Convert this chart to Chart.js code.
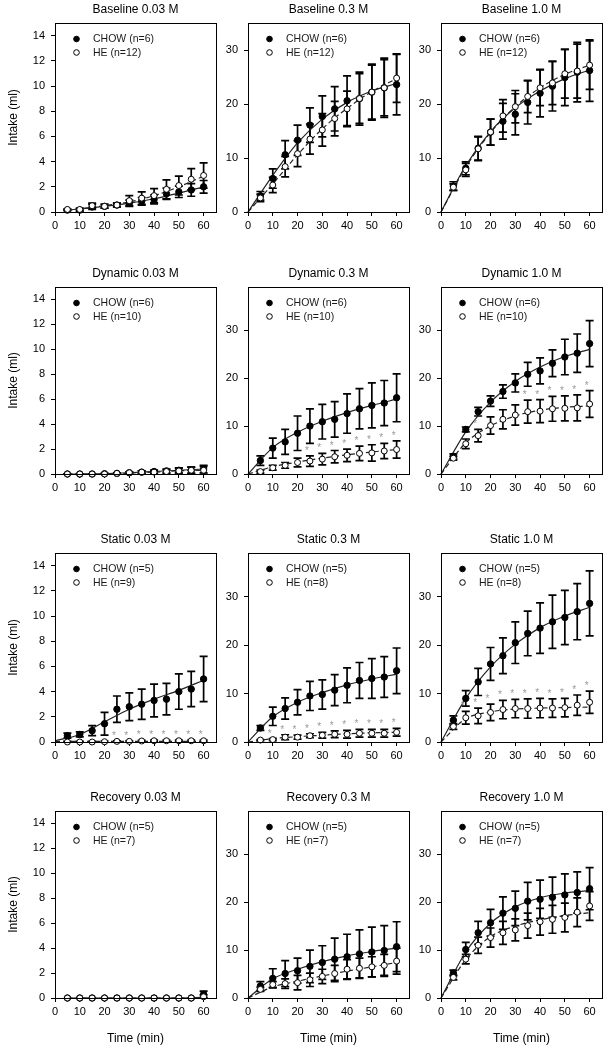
<!DOCTYPE html>
<html>
<head>
<meta charset="utf-8">
<script src="https://cdn.jsdelivr.net/npm/chart.js@4.4.1/dist/chart.umd.min.js"></script>
<style>
  html, body { margin: 0; padding: 0; background: #fff; }
  #fig { position: relative; width: 611px; height: 1050px; overflow: hidden; }
  #fig canvas { position: absolute; }
</style>
</head>
<body>
<div id="fig"></div>
<script>
// sampling times (min) and times used for the fitted curves
const times = [5, 10, 15, 20, 25, 30, 35, 40, 45, 50, 55, 60];
const fitTimes = [0, 10, 20, 30, 40, 50, 60];
const fitTimesLate = [5, 10, 20, 30, 40, 50, 60];

// panel order: Baseline, Dynamic, Static, Recovery x 0.03 / 0.3 / 1.0 M
const panelTitles = [
  'Baseline 0.03 M', 'Baseline 0.3 M', 'Baseline 1.0 M',
  'Dynamic 0.03 M', 'Dynamic 0.3 M', 'Dynamic 1.0 M',
  'Static 0.03 M', 'Static 0.3 M', 'Static 1.0 M',
  'Recovery 0.03 M', 'Recovery 0.3 M', 'Recovery 1.0 M'
];
const chowLabels = [
  'CHOW (n=6)', 'CHOW (n=6)', 'CHOW (n=6)',
  'CHOW (n=6)', 'CHOW (n=6)', 'CHOW (n=6)',
  'CHOW (n=5)', 'CHOW (n=5)', 'CHOW (n=5)',
  'CHOW (n=5)', 'CHOW (n=5)', 'CHOW (n=5)'
];
const heLabels = [
  'HE (n=12)', 'HE (n=12)', 'HE (n=12)',
  'HE (n=10)', 'HE (n=10)', 'HE (n=10)',
  'HE (n=9)', 'HE (n=8)', 'HE (n=8)',
  'HE (n=7)', 'HE (n=7)', 'HE (n=7)'
];
const yMax = [15, 35, 35, 15, 39, 39, 15, 39, 39, 15, 39, 39];
const yStep = [2, 10, 10, 2, 10, 10, 2, 10, 10, 2, 10, 10];

const chowMean = [
  [0.15, 0.15, 0.4, 0.45, 0.55, 0.7, 0.85, 1.0, 1.45, 1.6, 1.75, 2.0],
  [3.0, 6.2, 10.6, 13.3, 16.1, 17.7, 19.1, 20.6, 21.0, 22.2, 23.0, 23.6],
  [4.8, 8.1, 11.8, 14.8, 16.8, 18.1, 20.3, 22.0, 23.3, 24.9, 25.9, 26.2],
  [0, 0, 0, 0.02, 0.05, 0.1, 0.15, 0.2, 0.25, 0.3, 0.3, 0.4],
  [2.8, 5.4, 6.7, 8.5, 10.0, 10.9, 11.4, 12.6, 13.6, 14.3, 14.8, 15.9],
  [3.7, 9.3, 13.0, 15.2, 17.2, 19.0, 20.8, 21.5, 23.1, 24.4, 25.2, 27.2],
  [0.5, 0.6, 0.9, 1.45, 2.6, 2.8, 3.0, 3.3, 3.4, 4.0, 4.2, 5.0],
  [2.9, 5.3, 6.9, 8.2, 9.5, 9.8, 10.7, 11.7, 12.7, 13.1, 13.4, 14.7],
  [4.5, 9.0, 12.4, 16.1, 17.8, 20.5, 22.4, 23.5, 24.8, 25.7, 26.9, 28.6],
  [0, 0, 0, 0, 0, 0, 0, 0, 0, 0, 0, 0.3],
  [2.5, 4.1, 5.1, 5.7, 6.6, 7.4, 8.1, 8.6, 9.2, 9.6, 9.9, 10.7],
  [5.2, 10.1, 13.6, 15.7, 17.7, 18.7, 20.2, 20.6, 21.0, 21.5, 22.0, 22.8]
];
const chowSem = [
  [0.05, 0.1, 0.2, 0.15, 0.15, 0.25, 0.3, 0.35, 0.45, 0.45, 0.5, 0.5],
  [0.8, 1.8, 2.6, 2.8, 3.2, 3.8, 4.1, 4.6, 4.9, 5.0, 5.2, 5.6],
  [0.8, 1.2, 2.2, 2.4, 3.3, 3.8, 4.0, 4.4, 4.6, 5.2, 5.5, 5.7],
  [0.02, 0.02, 0.02, 0.05, 0.05, 0.08, 0.1, 0.12, 0.15, 0.2, 0.25, 0.3],
  [1.0, 2.1, 2.6, 3.6, 3.6, 3.6, 3.7, 4.1, 4.2, 4.7, 4.7, 5.0],
  [0.5, 0.5, 0.9, 1.1, 1.4, 1.9, 2.5, 2.7, 2.8, 3.7, 4.0, 4.8],
  [0.2, 0.2, 0.4, 0.9, 1.05, 1.1, 1.2, 1.3, 1.25, 1.4, 1.4, 1.8],
  [0.5, 1.9, 2.2, 2.6, 3.0, 3.0, 3.2, 3.6, 3.7, 4.1, 4.2, 4.7],
  [0.9, 1.6, 2.8, 3.4, 3.7, 4.3, 4.6, 5.2, 5.5, 5.6, 5.8, 6.7],
  [0, 0, 0, 0, 0, 0, 0, 0, 0, 0, 0, 0.25],
  [0.9, 2.0, 2.7, 2.6, 3.4, 3.5, 4.4, 4.7, 5.0, 5.2, 5.2, 5.2],
  [0.6, 1.5, 2.4, 2.8, 3.4, 3.6, 3.9, 4.0, 4.2, 4.4, 4.3, 4.4]
];
const heMean = [
  [0.2, 0.2, 0.5, 0.45, 0.55, 0.9, 1.1, 1.3, 1.8, 2.1, 2.6, 2.9],
  [2.6, 5.0, 8.4, 10.8, 13.5, 15.2, 17.3, 19.1, 21.0, 22.2, 23.0, 24.8],
  [4.6, 7.8, 11.7, 14.8, 17.8, 19.5, 21.4, 23.0, 23.9, 25.6, 26.1, 27.2],
  [0, 0, 0, 0, 0.05, 0.1, 0.15, 0.15, 0.2, 0.25, 0.3, 0.3],
  [0.5, 1.3, 1.8, 2.4, 2.7, 3.1, 3.6, 3.9, 4.3, 4.4, 4.8, 5.1],
  [3.3, 6.3, 8.0, 10.1, 11.4, 12.3, 13.0, 13.1, 13.6, 13.7, 13.8, 14.6],
  [0, 0, 0, 0.02, 0.05, 0.05, 0.08, 0.1, 0.1, 0.1, 0.1, 0.1],
  [0.4, 0.5, 1.0, 1.0, 1.3, 1.4, 1.6, 1.6, 1.8, 1.8, 1.8, 2.0],
  [3.2, 5.0, 5.4, 6.1, 6.7, 6.9, 6.9, 7.0, 7.0, 7.1, 7.6, 8.2],
  [0, 0, 0, 0, 0, 0, 0, 0, 0, 0, 0, 0.1],
  [1.8, 2.8, 3.0, 3.2, 3.8, 4.5, 5.1, 6.0, 6.2, 6.5, 6.8, 7.7],
  [4.3, 8.1, 11.0, 12.6, 13.6, 14.2, 15.1, 15.9, 16.4, 16.8, 17.9, 19.2]
];
const heSem = [
  [0.05, 0.1, 0.2, 0.15, 0.15, 0.4, 0.5, 0.55, 0.75, 0.75, 0.85, 1.0],
  [0.7, 1.4, 1.9, 2.4, 2.8, 3.0, 3.2, 3.3, 4.6, 5.2, 5.5, 4.5],
  [0.6, 1.2, 2.2, 2.4, 3.0, 3.0, 3.0, 3.3, 4.0, 4.5, 5.0, 4.5],
  [0.02, 0.02, 0.02, 0.02, 0.05, 0.08, 0.1, 0.12, 0.15, 0.2, 0.25, 0.3],
  [0.3, 0.5, 0.6, 0.9, 1.1, 1.2, 1.3, 1.3, 1.5, 1.7, 1.6, 1.8],
  [0.4, 1.0, 1.3, 1.8, 2.0, 2.1, 2.4, 2.4, 2.6, 2.6, 2.7, 2.8],
  [0.05, 0.05, 0.05, 0.05, 0.05, 0.05, 0.05, 0.05, 0.05, 0.05, 0.05, 0.05],
  [0.1, 0.2, 0.5, 0.4, 0.4, 0.6, 0.7, 0.8, 0.8, 0.8, 0.8, 0.8],
  [0.6, 1.3, 1.6, 1.7, 1.9, 1.9, 2.0, 2.0, 1.9, 1.9, 2.1, 2.3],
  [0, 0, 0, 0, 0, 0, 0, 0, 0, 0, 0, 0.15],
  [0.4, 0.6, 1.0, 1.5, 1.4, 1.5, 1.7, 2.0, 2.1, 2.1, 2.3, 2.7],
  [0.5, 1.0, 1.7, 2.0, 2.4, 2.3, 2.6, 2.8, 2.9, 3.0, 3.0, 3.0]
];

// fitted curves (x = fitTimes, or fitTimesLate where flagged)
const fitLate = [true, false, false, true, false, false, false, false, false, true, false, false];
const chowFit = [
  [0.15, 0.25, 0.45, 0.7, 1.05, 1.5, 2.0],
  [0, 6.8, 12.8, 17.2, 20.3, 22.4, 23.8],
  [0, 8.6, 14.9, 19.3, 22.4, 24.7, 26.3],
  [0, 0, 0.03, 0.1, 0.2, 0.3, 0.4],
  [0, 5.5, 8.7, 11.0, 12.8, 14.3, 15.6],
  [0, 8.8, 15.0, 19.3, 22.3, 24.5, 26.0],
  [0.1, 0.6, 1.6, 2.6, 3.4, 4.1, 4.9],
  [0, 5.2, 8.2, 10.2, 11.8, 13.0, 14.0],
  [0, 9.0, 15.5, 20.2, 23.6, 26.0, 27.8],
  [0, 0, 0, 0, 0, 0, 0.05],
  [0, 4.0, 6.0, 7.6, 8.8, 9.7, 10.4],
  [0, 9.6, 15.6, 19.0, 20.9, 21.9, 22.4]
];
const heFit = [
  [0.15, 0.25, 0.5, 0.8, 1.3, 2.0, 2.85],
  [0, 5.2, 10.6, 15.4, 19.2, 22.3, 24.7],
  [0, 8.3, 14.7, 19.5, 23.0, 25.5, 27.2],
  [0, 0, 0, 0.08, 0.15, 0.25, 0.3],
  [0, 1.5, 2.5, 3.3, 4.0, 4.6, 5.1],
  [0, 6.5, 10.0, 12.1, 13.3, 13.9, 14.2],
  [0.05, 0.05, 0.05, 0.05, 0.05, 0.05, 0.05],
  [0, 0.7, 1.1, 1.4, 1.7, 1.9, 2.0],
  [0, 4.8, 6.2, 6.8, 7.0, 7.1, 7.2],
  [0, 0, 0, 0, 0, 0, 0],
  [0, 2.3, 3.5, 4.6, 5.6, 6.5, 7.4],
  [0, 8.0, 12.8, 15.0, 16.3, 17.2, 17.8]
];

// times where HE differs from CHOW (asterisks)
const starTimes = [
  [], [], [],
  [], [25, 30, 35, 40, 45, 50, 55, 60], [15, 35, 40, 45, 50, 55, 60],
  [25, 30, 35, 40, 45, 50, 55, 60], [10, 15, 20, 25, 30, 35, 40, 45, 50, 55, 60], [10, 15, 20, 25, 30, 35, 40, 45, 50, 55, 60],
  [], [], []
];

// layout of the plot boxes on the page
const colLeft = [55, 248, 441];
const rowTop = [23, 287, 553, 811];
const rowBottom = [212, 474, 742, 998];
const plotW = 161;

Chart.defaults.font.family = "'Liberation Sans', Arial, sans-serif";
Chart.defaults.color = '#000';

function align(v) { return Math.round(v - 0.5) + 0.5; }

const panelDecor = {
  id: 'panelDecor',
  beforeDatasetsDraw(chart) {
    const { ctx, scales: { x, y } } = chart;
    ctx.save();
    ctx.strokeStyle = '#000';
    ctx.lineWidth = 1.7;
    chart.data.datasets.forEach(ds => {
      if (!ds.errors) return;
      ds.data.forEach((pt, i) => {
        const e = ds.errors[i];
        if (!e) return;
        const px = x.getPixelForValue(pt.x);
        const top = y.getPixelForValue(pt.y + e);
        const bot = y.getPixelForValue(Math.max(0, pt.y - e));
        ctx.beginPath();
        ctx.moveTo(px, top); ctx.lineTo(px, bot);
        ctx.moveTo(px - 4, top); ctx.lineTo(px + 4, top);
        ctx.moveTo(px - 4, bot); ctx.lineTo(px + 4, bot);
        ctx.stroke();
      });
    });
    ctx.restore();
  },
  afterDraw(chart, args, opts) {
    const { ctx, chartArea: a, scales: { x, y } } = chart;
    ctx.save();
    // frame
    ctx.strokeStyle = '#000';
    ctx.lineWidth = 1;
    const l = align(a.left), t = align(a.top), r = align(a.right), b = align(a.bottom);
    ctx.strokeRect(l, t, r - l, b - t);
    // asterisks
    ctx.fillStyle = '#999';
    ctx.font = "10px 'Liberation Sans', Arial, sans-serif";
    ctx.textAlign = 'center';
    ctx.textBaseline = 'alphabetic';
    opts.stars.forEach(tm => {
      const i = times.indexOf(tm);
      const px = x.getPixelForValue(tm) - 3;
      const py = y.getPixelForValue(opts.heMean[i] + opts.heSem[i]) - 2;
      ctx.fillText('*', px, py);
    });
    // legend
    ctx.textAlign = 'left';
    ctx.textBaseline = 'middle';
    ctx.font = "10.5px 'Liberation Sans', Arial, sans-serif";
    opts.labels.forEach((lab, k) => {
      const my = a.top + 16 + k * 13.5;
      ctx.beginPath();
      ctx.arc(a.left + 21.5, my, 2.8, 0, Math.PI * 2);
      ctx.fillStyle = k === 0 ? '#000' : '#fff';
      ctx.fill();
      ctx.strokeStyle = '#000';
      ctx.stroke();
      ctx.fillStyle = '#1a1a1a';
      ctx.fillText(lab, a.left + 38, my + 0.5);
    });
    ctx.restore();
  }
};

const fig = document.getElementById('fig');

panelTitles.forEach((title, p) => {
  const r = Math.floor(p / 3), c = p % 3;
  const axisW = c === 0 ? 55 : 36;
  const xAxisH = r === 3 ? 52 : 26;
  const plotH = rowBottom[r] - rowTop[r];
  const cv = document.createElement('canvas');
  cv.width = axisW + plotW + 8;
  cv.height = 24 + plotH + xAxisH;
  cv.style.left = (colLeft[c] - axisW) + 'px';
  cv.style.top = (rowTop[r] - 24) + 'px';
  cv.style.width = cv.width + 'px';
  cv.style.height = cv.height + 'px';
  fig.appendChild(cv);

  const fx = fitLate[p] ? fitTimesLate : fitTimes;

  new Chart(cv, {
    type: 'scatter',
    data: {
      datasets: [
        {
          label: chowLabels[p],
          data: times.map((t, i) => ({ x: t, y: chowMean[p][i] })),
          errors: chowSem[p],
          pointRadius: 3.2,
          pointBackgroundColor: '#000',
          pointBorderColor: '#000',
          pointBorderWidth: 1,
          showLine: false,
          clip: false,
          order: 1
        },
        {
          label: heLabels[p],
          data: times.map((t, i) => ({ x: t, y: heMean[p][i] })),
          errors: heSem[p],
          pointRadius: 3,
          pointBackgroundColor: '#fff',
          pointBorderColor: '#000',
          pointBorderWidth: 1,
          showLine: false,
          clip: false,
          order: 0
        },
        {
          label: 'CHOW fit',
          data: fx.map((t, i) => ({ x: t, y: chowFit[p][i] })),
          showLine: true,
          pointRadius: 0,
          borderColor: '#222',
          borderWidth: 1.2,
          cubicInterpolationMode: 'monotone',
          clip: false,
          order: 3
        },
        {
          label: 'HE fit',
          data: fx.map((t, i) => ({ x: t, y: heFit[p][i] })),
          showLine: true,
          pointRadius: 0,
          borderColor: '#222',
          borderWidth: 1.2,
          borderDash: [5, 3],
          cubicInterpolationMode: 'monotone',
          clip: false,
          order: 2
        }
      ]
    },
    options: {
      responsive: false,
      animation: false,
      devicePixelRatio: 1,
      events: [],
      layout: { padding: { left: 0, right: 8, top: 0, bottom: 0 } },
      plugins: {
        legend: { display: false },
        tooltip: { enabled: false },
        title: {
          display: true,
          text: title,
          fullSize: false,
          color: '#000',
          font: { size: 12, weight: 'normal', lineHeight: 1.25 },
          padding: { top: 3, bottom: 6 }
        },
        panelDecor: {
          labels: [chowLabels[p], heLabels[p]],
          stars: starTimes[p],
          heMean: heMean[p],
          heSem: heSem[p]
        }
      },
      scales: {
        x: {
          type: 'linear',
          min: 0,
          max: 65,
          afterFit(s) { s.height = xAxisH; },
          ticks: { stepSize: 10, includeBounds: false, maxRotation: 0, padding: 3, font: { size: 11 }, color: '#000' },
          grid: { drawOnChartArea: false, drawTicks: true, tickLength: 4, color: '#000' },
          border: { display: true, color: '#000', width: 1 },
          title: {
            display: r === 3,
            text: 'Time (min)',
            color: '#000',
            font: { size: 12 },
            padding: { top: 4, bottom: 4 }
          }
        },
        y: {
          type: 'linear',
          min: 0,
          max: yMax[p],
          afterFit(s) { s.width = axisW; },
          ticks: { stepSize: yStep[p], includeBounds: false, padding: 6, font: { size: 11 }, color: '#000' },
          grid: { drawOnChartArea: false, drawTicks: true, tickLength: 4, color: '#000' },
          border: { display: true, color: '#000', width: 1 },
          title: {
            display: c === 0,
            text: 'Intake (ml)',
            color: '#000',
            font: { size: 12 },
            padding: { top: 6, bottom: 0 }
          }
        }
      }
    },
    plugins: [panelDecor]
  });
});
</script>
</body>
</html>
